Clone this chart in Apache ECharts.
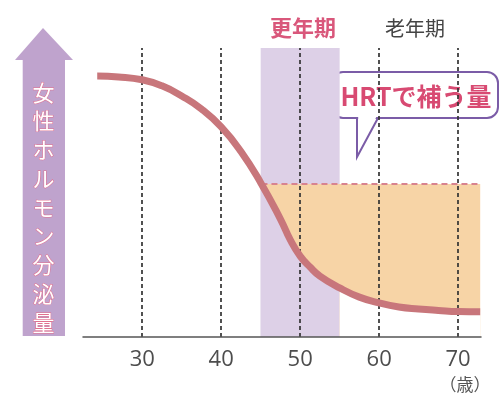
<!DOCTYPE html>
<html>
<head>
<meta charset="utf-8">
<script src="https://cdn.jsdelivr.net/npm/echarts@6/dist/echarts.min.js"></script>
<style>
  html, body { margin: 0; padding: 0; background: #fff; }
  #chart { width: 500px; height: 396px; }
</style>
</head>
<body>
<div id="chart"></div>
<script>
// Age (years) and relative female hormone secretion along the curve
const ages    = [24.3, 27, 30, 32.5, 35, 37.5, 40, 42.5, 45, 47.5, 48.75, 50, 51.25, 52.5, 55, 57.5, 60, 62.5, 65, 67.5, 70, 72.8];
const hormone = [90.3, 90.0, 89.0, 86.9, 83.4, 78.9, 72.7, 64.2, 53.4, 40.8, 33.6, 28.0, 24.2, 21.1, 17.0, 13.8, 11.8, 10.4, 9.7, 9.2, 8.8, 8.7];

// Level kept by hormone replacement therapy and its age span
const hrtLevel = 52.9;
const hrtSpan = [45.1, 72.8];

// Climacteric (menopause transition) period
const climacteric = [45, 55];

// Axis ticks
const xTicks = [30, 40, 50, 60, 70];

const CJK = '"Noto Sans CJK JP", sans-serif';
const curveColor = '#c8767b';
const bandColor = '#ddd0e7';
const fillColor = '#f7d4a6';
const calloutColor = '#7b5ca7';

const curvePts = ages.map((a, i) => [a, hormone[i]]);
const underBand = curvePts.filter(p => p[0] >= climacteric[0] && p[0] <= climacteric[1]);
const underAfter = curvePts.filter(p => p[0] >= climacteric[1]);
const SMOOTH = 0.5;

const chart = echarts.init(document.getElementById('chart'), null, { renderer: 'canvas' });

chart.setOption({
  animation: false,
  backgroundColor: '#fff',
  grid: { left: 83, right: 19, top: 48, bottom: 59 },
  xAxis: {
    type: 'value',
    min: 22.5,
    max: 72.9,
    z: 10,
    axisLine: { lineStyle: { color: '#555', width: 1.5 } },
    axisTick: { show: false },
    splitLine: { show: false },
    axisLabel: {
      customValues: xTicks,
      fontSize: 22,
      color: '#4d4d4d',
      fontFamily: '"Open Sans", sans-serif',
      margin: 12
    }
  },
  yAxis: { type: 'value', min: 0, max: 100, show: false },
  series: [
    {
      // climacteric band
      type: 'line', data: [], z: 1, silent: true,
      markArea: {
        silent: true,
        itemStyle: { color: bandColor },
        data: [[{ xAxis: climacteric[0] }, { xAxis: climacteric[1] }]]
      }
    },
    {
      // HRT level, filled down to the axis
      type: 'line', z: 2, silent: true, symbol: 'none',
      data: [[hrtSpan[0], hrtLevel], [hrtSpan[1], hrtLevel]],
      lineStyle: { color: '#d8838f', width: 2, type: [6, 4] },
      areaStyle: { color: fillColor, opacity: 1, origin: 'start' }
    },
    {
      // region below the curve inside the band
      type: 'line', z: 3, silent: true, symbol: 'none', smooth: SMOOTH,
      data: underBand,
      lineStyle: { width: 0 },
      areaStyle: { color: bandColor, opacity: 1, origin: 'start' }
    },
    {
      // region below the curve after the band
      type: 'line', z: 3, silent: true, symbol: 'none', smooth: SMOOTH,
      data: underAfter,
      lineStyle: { width: 0 },
      areaStyle: { color: '#ffffff', opacity: 1, origin: 'start' }
    },
    {
      // age guide lines
      type: 'line', data: [], z: 4, silent: true,
      markLine: {
        silent: true,
        symbol: 'none',
        label: { show: false },
        lineStyle: { color: '#333', width: 1.7, type: [4, 3] },
        data: xTicks.map(v => ({ xAxis: v }))
      }
    },
    {
      // hormone secretion curve
      type: 'line', z: 5, silent: true, symbol: 'none', smooth: SMOOTH,
      data: curvePts,
      lineStyle: { color: curveColor, width: 7, cap: 'butt' }
    }
  ],
  graphic: [
    {
      type: 'polygon', silent: true,
      shape: { points: [[43, 28], [73, 60], [65, 60], [65, 336], [22.7, 336], [22.7, 60], [15, 60]] },
      style: { fill: '#bfa3cd' }
    },
    {
      type: 'text', silent: true,
      style: {
        x: 43.5, y: 78,
        text: '女性ホルモン分泌量'.split('').join('\n'),
        align: 'center', verticalAlign: 'top',
        fontSize: 22, lineHeight: 28.75,
        fontFamily: CJK,
        fill: '#ffffff',
        stroke: '#e2708e', lineWidth: 1
      }
    },
    {
      type: 'text', silent: true,
      style: {
        x: 303, y: 28, text: '更年期', align: 'center', verticalAlign: 'middle',
        fontSize: 22, fontWeight: 'bold', fontFamily: CJK, fill: '#d9577b'
      }
    },
    {
      type: 'text', silent: true,
      style: {
        x: 415, y: 28, text: '老年期', align: 'center', verticalAlign: 'middle',
        fontSize: 20, fontFamily: CJK, fill: '#444'
      }
    },
    {
      type: 'text', silent: true,
      style: {
        x: 302, y: 77, text: '閉経', align: 'center', verticalAlign: 'middle',
        fontSize: 18, fontFamily: CJK, fill: '#e43a44'
      }
    },
    // speech bubble
    {
      type: 'rect', silent: true,
      shape: { x: 332, y: 72, width: 166, height: 46, r: 11 },
      style: { fill: '#ffffff', stroke: calloutColor, lineWidth: 2 }
    },
    {
      type: 'polygon', silent: true,
      shape: { points: [[358.2, 116.5], [358.2, 155], [376.5, 116.5]] },
      style: { fill: '#ffffff' }
    },
    {
      type: 'polyline', silent: true,
      shape: { points: [[357, 118], [357, 157], [378, 118]] },
      style: { fill: null, stroke: calloutColor, lineWidth: 2 }
    },
    {
      type: 'text', silent: true,
      style: {
        x: 416, y: 96, text: 'HRTで補う量', align: 'center', verticalAlign: 'middle',
        fontSize: 25, fontWeight: 'bold', fontFamily: CJK, fill: '#d84a72'
      }
    },
    {
      type: 'text', silent: true,
      style: {
        x: 465, y: 385, text: '（歳）', align: 'center', verticalAlign: 'middle',
        fontSize: 17, fontFamily: CJK, fill: '#555'
      }
    }
  ]
});
</script>
</body>
</html>
